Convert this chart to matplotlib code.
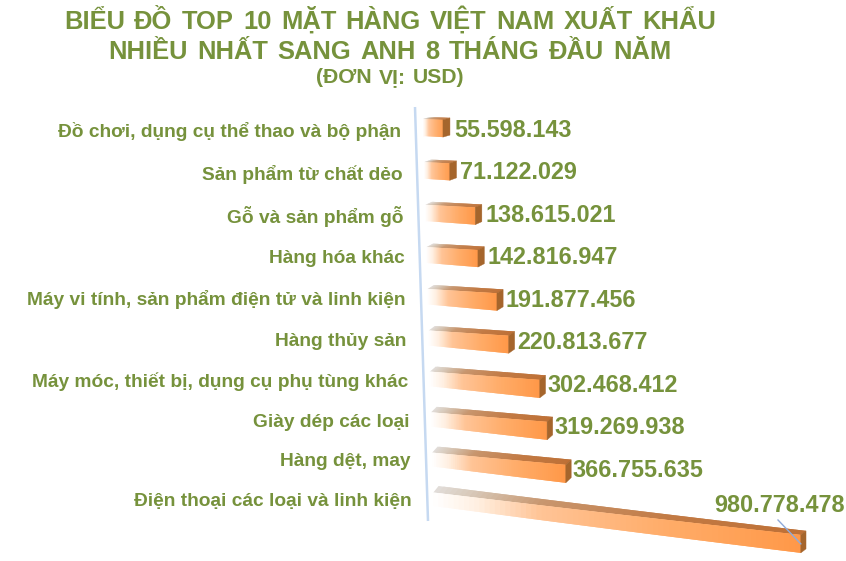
import numpy as np
import matplotlib
matplotlib.use("Agg")
import matplotlib.pyplot as plt
from matplotlib.collections import PolyCollection
from matplotlib.patches import Polygon

plt.rcParams['font.family'] = ['Liberation Sans', 'DejaVu Sans']

categories = ["Đồ chơi, dụng cụ thể thao và bộ phận", "Sản phẩm từ chất dẻo", "Gỗ và sản phẩm gỗ",
              "Hàng hóa khác", "Máy vi tính, sản phẩm điện tử và linh kiện", "Hàng thủy sản",
              "Máy móc, thiết bị, dụng cụ phụ tùng khác", "Giày dép các loại", "Hàng dệt, may",
              "Điện thoại các loại và linh kiện"]
values = [55598143, 71122029, 138615021, 142816947, 191877456,
          220813677, 302468412, 319269938, 366755635, 980778478]
title_lines = ["BIỂU ĐỒ TOP 10 MẶT HÀNG VIỆT NAM XUẤT KHẨU", "NHIỀU NHẤT SANG ANH 8 THÁNG ĐẦU NĂM"]
unit_line = "(ĐƠN VỊ: USD)"

GREEN = "#76923C"

fig = plt.figure(figsize=(8.46, 5.61), dpi=100)
ax = fig.add_axes([0, 0, 1, 1])
ax.set_xlim(0, 846)
ax.set_ylim(561, 0)
ax.axis("off")


# fake 3d: value (millions) + row -> picture position
def front(v, i, end, up=0.0):
    x = 423 + 1.15 * i + v * (0.358 + 1.7e-5 * v)
    y = 136 + i * (42.9 - 0.2 * i) + v * (0.02 + 0.0031 * i)
    left = 17 - 0.4 * i
    right = left + (18 - left) * min(end / 250, 1)
    h = left + (right - left) * v / end
    return x, y - up * h


def depth_dy(v, i):
    left = -2 - 0.5 * i
    right = -2.5 - 0.17 * i
    return left + (right - left) * v / 980


def shade(t, stops):
    pos = [0, 0.12, 0.3, 0.65, 1]
    return np.array([np.interp(t, pos, [s[c] for s in stops]) for c in range(3)]).T / 255


# words placed on their own so that the line keeps the wide tracking of the original
def spread_words(line, x_left, x_right, baseline, size):
    words = line.split(" ")
    items = [ax.text(0, baseline, w, ha="left", va="baseline", color=GREEN, fontsize=size, fontweight="bold")
             for w in words]
    rend = fig.canvas.get_renderer()
    widths = [it.get_window_extent(rend).width for it in items]
    gap = (x_right - x_left - sum(widths)) / max(len(words) - 1, 1)
    x = x_left
    for it, w in zip(items, widths):
        it.set_x(x)
        x += w + gap


front_stops = [(255, 255, 255), (255, 240, 226), (255, 196, 150), (255, 172, 104), (255, 152, 72)]
top_stops = [(226, 222, 218), (214, 196, 178), (200, 150, 110), (194, 122, 68), (190, 112, 54)]

for i, val in enumerate(values):
    v = val / 1e6
    edges = np.linspace(0, v, 70)
    t = edges[:-1] / v + 0.5 / 69
    dx = 7 - 0.2 * i

    quads = []
    tops = []
    for k, a in enumerate(edges[:-1]):
        # each piece runs over the next one, the later one paints over it: no seams
        b = edges[min(k + 2, 69)]
        xa, ya = front(a, i, v)
        xb, yb = front(b, i, v)
        xat, yat = front(a, i, v, 1)
        xbt, ybt = front(b, i, v, 1)
        quads.append([(xa, ya), (xb, yb), (xbt, ybt), (xat, yat)])
        tops.append([(xat, yat), (xbt, ybt), (xbt + dx, ybt + depth_dy(b, i)), (xat + dx, yat + depth_dy(a, i))])

    ax.add_collection(PolyCollection(tops, facecolors=shade(t, top_stops), edgecolors="none"))
    ax.add_collection(PolyCollection(quads, facecolors=shade(t, front_stops), edgecolors="none"))

    # end of the bar
    xe, ye = front(v, i, v)
    xet, yet = front(v, i, v, 1)
    dy = depth_dy(v, i)
    ax.add_patch(Polygon([(xe, ye), (xet, yet), (xet + dx, yet + dy), (xe + dx, ye + dy)],
                         closed=True, facecolor="#A5652C", edgecolor="#A5652C", lw=0.3))

    # labels
    x0, y0 = front(0, i, v)
    ax.text(x0 - 22, y0 - 4.5, categories[i], ha="right", va="center", color=GREEN,
            fontsize=13.76, fontweight="bold")
    label = f"{val:,}".replace(",", ".")
    if i == len(values) - 1:
        ax.text(714, 505.5, label, ha="left", va="center", color=GREEN, fontsize=16.85, fontweight="bold")
        ax.plot([778, xe], [520, ye - 9], color="#8EAADB", lw=1)
    else:
        ax.text(xe + 11 - 0.5 * i, 130 + 42.5 * i, label, ha="left", va="center", color=GREEN,
                fontsize=16.85, fontweight="bold")

# axis line
ax.plot([415, 428], [107, 521], color="#C6D9F1", lw=1.8, solid_capstyle="butt")

spread_words(title_lines[0], 64, 716, 28.5, 18.4)
spread_words(title_lines[1], 108, 672, 59, 18.4)
spread_words(unit_line, 316, 464, 83, 15.2)

fig.savefig("out.png", dpi=100)
